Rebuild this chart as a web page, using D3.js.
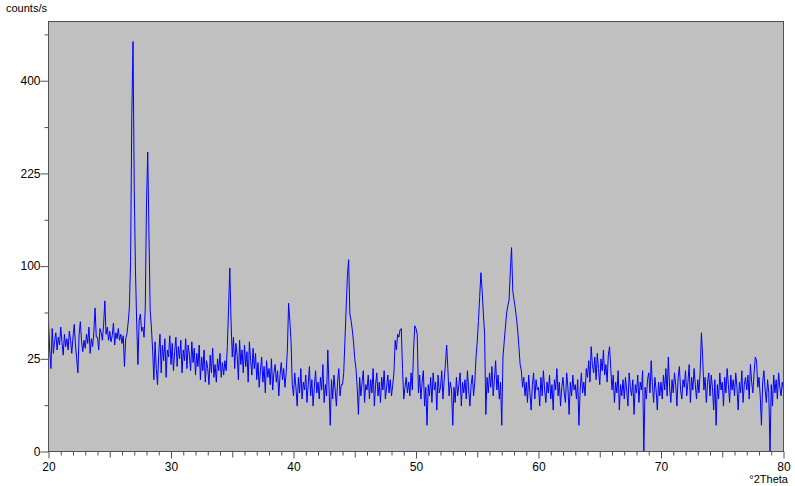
<!DOCTYPE html>
<html>
<head>
<meta charset="utf-8">
<script src="https://cdn.jsdelivr.net/npm/d3@7"></script>
<style>
    body { margin: 0; background: #fff; }
    svg text { font-family: Arial, "Liberation Sans", sans-serif; fill: #000; }
</style>
</head>
<body>
<div id="chart"></div>
<script>
'use strict'

// scan: 20 to 80 °2Theta, one reading every 0.1°
const scanStart = 20;
const scanStep = 0.1;

// counts/s, ten readings per degree
const counts20 = [
    48, 30, 20, 44, 28, 36, 41, 30, 38, 33,
    45, 35, 27, 40, 32, 37, 30, 42, 36, 28,
    38, 47, 33, 25, 18, 40, 49, 35, 29, 36,
    31, 40, 34, 45, 28, 37, 32, 41, 60, 38,
    38, 30, 44, 41, 36, 47, 66, 40, 45, 36,
    42, 35, 39, 48, 33, 41, 37, 44, 36, 40,
    34, 39, 21, 37, 40, 48, 60, 105, 330, 489,
    200, 95, 48, 22, 50, 55, 42, 45, 38, 60,
    180, 261, 140, 58, 45, 30, 15, 35, 20, 13,
    28, 40, 18, 33, 24, 37, 16, 30, 26, 39
];
const counts30 = [
    22, 34, 19, 29, 38, 21, 32, 25, 36, 18,
    30, 24, 37, 20, 33, 27, 19, 35, 23, 31,
    17, 28, 21, 33, 15, 26, 19, 30, 14, 24,
    20, 13, 27, 18, 31, 16, 22, 14, 25, 19,
    28, 16, 23, 17, 24, 19, 32, 60, 98, 50,
    26, 38, 20, 34, 27, 15, 36, 22, 30, 18,
    33, 21, 29, 14, 35, 24, 17, 31, 20, 28,
    15, 23, 12, 19, 26, 14, 21, 10, 24, 16,
    20, 13, 25, 11, 18, 22, 14, 19, 9, 17,
    23, 15, 20, 12, 18, 30, 64, 50, 35, 13
];
const counts40 = [
    9, 18, 12, 6, 16, 10, 20, 8, 14, 11,
    17, 7, 13, 21, 9, 15, 6, 12, 19, 10,
    14, 8, 16, 11, 22, 7, 13, 9, 30, 12,
    2, 15, 8, 17, 11, 6, 14, 20, 9, 13,
    13, 18, 36, 60, 90, 107, 55, 50, 43, 35,
    25, 20, 12, 4, 16, 9, 14, 19, 7, 13,
    11, 17, 8, 15, 10, 20, 6, 13, 18, 9,
    14, 7, 16, 11, 19, 8, 12, 17, 10, 15,
    9, 13, 18, 36, 30, 40, 38, 43, 44, 20,
    8, 12, 16, 10, 14, 9, 18, 11, 30, 46
];
const counts50 = [
    44, 40, 10, 17, 8, 14, 19, 6, 12, 2,
    13, 9, 16, 7, 18, 11, 14, 5, 17, 10,
    12, 19, 8, 15, 22, 33, 20, 9, 14, 11,
    2, 12, 7, 16, 9, 13, 18, 6, 14, 10,
    15, 8, 19, 11, 6, 13, 17, 9, 14, 26,
    35, 50, 70, 93, 75, 55, 40, 4, 16, 10,
    18, 12, 21, 9, 15, 24, 11, 17, 8, 14,
    2, 26, 35, 45, 56, 62, 67, 95, 121, 75,
    67, 60, 52, 43, 32, 22, 19, 12, 16, 9,
    14, 7, 17, 10, 5, 13, 18, 8, 15, 11
];
const counts60 = [
    12, 6, 16, 9, 19, 11, 7, 14, 10, 17,
    8, 13, 5, 15, 11, 20, 9, 14, 6, 12,
    16, 10, 7, 18, 12, 4, 14, 9, 17, 11,
    13, 8, 15, 2, 11, 18, 10, 14, 9, 20,
    16, 24, 14, 32, 22, 18, 26, 15, 28, 20,
    13, 25, 19, 30, 17, 22, 14, 27, 32, 20,
    11, 17, 7, 14, 10, 19, 5, 13, 9, 15,
    8, 16, 11, 6, 18, 12, 9, 15, 4, 13,
    10, 17, 7, 14, 11, 19, 0, 12, 8, 15,
    18, 10, 24, 13, 7, 16, 11, 5, 14, 9
];
const counts70 = [
    14, 8, 17, 11, 20, 9, 26, 12, 7, 15,
    10, 18, 13, 6, 16, 21, 11, 8, 15, 12,
    19, 9, 14, 22, 7, 16, 11, 20, 13, 8,
    15, 10, 19, 41, 26, 11, 16, 7, 14, 18,
    9, 17, 12, 5, 15, 2, 13, 8, 18, 11,
    14, 6, 16, 10, 20, 13, 7, 17, 11, 15,
    9, 18, 12, 5, 14, 10, 19, 7, 13, 16,
    11, 17, 8, 22, 14, 10, 18, 26, 24, 12,
    16, 9, 2, 14, 19, 11, 7, 15, 10, 0,
    13, 6, 17, 10, 15, 8, 18, 12, 9, 14,
    11
];

const xLabelTicks = [20, 30, 40, 50, 60, 70, 80];
const xMidTicks = [25, 35, 45, 55, 65, 75];
const xMinorTicks = d3.range(21, 80).filter(v => v % 5 !== 0);
const yLabelTicks = [0, 25, 100, 225, 400];
const yMinorTicks = [6.25, 56.25, 156.25, 306.25, 506.25];

document.addEventListener('DOMContentLoaded', function () {
    const allCounts = [...counts20, ...counts30, ...counts40, ...counts50, ...counts60, ...counts70];
    const data = allCounts.map((c, i) => ({ angle: scanStart + i * scanStep, value: c }));

    const width = 795;
    const height = 486;
    const plot = { left: 48.5, right: 783.5, top: 21.5, bottom: 451.5 };

    const svg = d3.select("#chart")
        .append("svg")
        .attr("width", width)
        .attr("height", height);

    const x = d3.scaleLinear()
        .domain([20, 80])
        .range([plot.left, plot.right]);

    const y = d3.scaleSqrt()
        .domain([0, 538])
        .range([plot.bottom, plot.top]);

    // plot background
    svg.append("rect")
        .attr("x", plot.left)
        .attr("y", plot.top)
        .attr("width", plot.right - plot.left)
        .attr("height", plot.bottom - plot.top)
        .attr("fill", "#c0c0c0");

    // pattern line
    const line = d3.line()
        .x(d => x(d.angle))
        .y(d => y(d.value));

    svg.append("path")
        .datum(data)
        .attr("d", line)
        .attr("fill", "none")
        .attr("stroke", "#0000ff")
        .attr("stroke-width", 1);

    // frame
    svg.append("rect")
        .attr("x", plot.left)
        .attr("y", plot.top)
        .attr("width", plot.right - plot.left)
        .attr("height", plot.bottom - plot.top)
        .attr("fill", "none")
        .attr("stroke", "#505050")
        .attr("stroke-width", 1);

    // X axis
    function xAxis(values, size, labels) {
        const g = svg.append("g")
            .attr("transform", `translate(0,${plot.bottom})`)
            .call(d3.axisBottom(x)
                .tickValues(values)
                .tickSize(size)
                .tickSizeOuter(0)
                .tickPadding(4)
                .tickFormat(labels ? d3.format("d") : ""));
        g.select(".domain").remove();
        g.selectAll("line").attr("stroke", "#505050");
        g.selectAll("text").style("font-size", "12px");
    }
    xAxis(xMinorTicks, 4, false);
    xAxis(xMidTicks, 6, false);
    xAxis(xLabelTicks, 7, true);

    // Y axis
    function yAxis(values, size, labels) {
        const g = svg.append("g")
            .attr("transform", `translate(${plot.left},0)`)
            .call(d3.axisLeft(y)
                .tickValues(values)
                .tickSize(size)
                .tickSizeOuter(0)
                .tickPadding(0)
                .tickFormat(labels ? d3.format("d") : ""));
        g.select(".domain").remove();
        g.selectAll("line").attr("stroke", "#505050");
        g.selectAll("text").style("font-size", "12px");
    }
    yAxis(yMinorTicks, 4, false);
    yAxis(yLabelTicks, 8, true);

    // axis titles
    svg.append("text")
        .attr("x", 6)
        .attr("y", 12)
        .style("font-size", "11px")
        .text("counts/s");

    svg.append("text")
        .attr("x", 788)
        .attr("y", 483)
        .attr("text-anchor", "end")
        .style("font-size", "11px")
        .text("°2Theta");
});
</script>
</body>
</html>
